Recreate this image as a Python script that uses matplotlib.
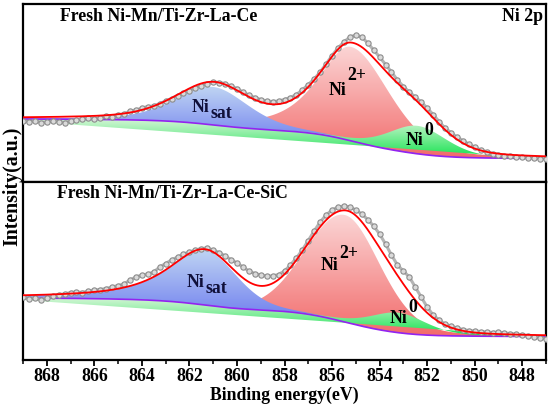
import numpy as np
import matplotlib
matplotlib.use("Agg")
import matplotlib.pyplot as plt
from matplotlib.colors import LinearSegmentedColormap

# ---------------- data (intensity in arbitrary units) -------------
tick_values = [868, 866, 864, 862, 860, 858, 856, 854, 852, 850, 848]
tick_labels = ["868", "866", "864", "862", "860", "858", "856", "854", "852", "850", "848"]

# raw XPS counts, 869 -> 847 eV every 0.25 eV
top_counts = [61, 60, 61.5, 59.5, 60, 61, 60.5, 59, 61.5, 62, 63.5, 64, 63.5, 64.5, 66, 65.5,
              67.5, 68, 71, 72, 74, 75.5, 76, 78.5, 81, 83.5, 86.5, 89, 91.5, 94, 96.5, 98.5,
              100, 99.5, 98.5, 96, 93.5, 90, 87, 84.5, 82.5, 81, 80.5, 81, 82.5, 84.5, 87.5, 92,
              97.5, 103, 110, 118, 126.5, 134, 140, 145, 147, 145, 139, 132, 125, 117.5, 110, 102,
              95.5, 90, 85, 80, 74, 67.5, 60.5, 54, 49.5, 45, 41.5, 38, 35, 32, 30.5, 28.5,
              27.5, 26.5, 26, 25.5, 25, 24, 24.5, 23.5, 23.5]
bot_counts = [63, 61.5, 62, 60.5, 62, 64, 65.5, 66, 67.5, 68, 67.5, 69, 70, 70.5, 71.5, 73,
              74.5, 76, 80, 83, 85, 86, 88, 93, 96.5, 100, 103, 106, 108, 110, 111.5, 112,
              110, 107.5, 104, 100.5, 97, 93, 89, 86.5, 85, 84, 84, 85.5, 89, 95, 102, 110,
              119.5, 129, 138, 145, 150, 153, 154, 153, 150, 146, 140.5, 134, 126, 116, 105, 95,
              89, 83, 73, 63, 53, 45, 40, 36, 34, 32, 30.5, 29.5, 29, 28.5, 28, 27.5,
              28, 27, 26.5, 26, 25, 24.5, 23, 22, 21.5]

# fitted components: Ni2+, Ni_sat, Ni0
top_center = [855.2, 861.0, 852.4]
top_height = [94, 38, 28]
top_hwhm_left = [1.65, 1.85, 1.45]
top_hwhm_right = [1.9, 1.75, 1.45]
top_eta_left = [0.7, 0.4, 0.3]
top_eta_right = [0.3, 0.35, 0.3]
top_bg = [63, 23.5]      # Shirley background at 869 eV and 847 eV
top_line = [61, 23]      # straight baseline at 869 eV and 847 eV

bot_center = [855.45, 861.35, 853.2]
bot_height = [107, 55, 20]
bot_hwhm_left = [1.95, 1.85, 1.4]
bot_hwhm_right = [1.75, 1.55, 1.4]
bot_eta_left = [0.05, 0.85, 0.3]
bot_eta_right = [0.2, 0.2, 0.3]
bot_bg = [62, 23.5]
bot_line = [60, 23]

panel_titles = ["Fresh Ni-Mn/Ti-Zr-La-Ce", "Fresh Ni-Mn/Ti-Zr-La-Ce-SiC"]

# ---------------- figure -------------
plt.rcParams["font.family"] = ["Liberation Serif", "DejaVu Serif"]
plt.rcParams["font.weight"] = "bold"

W, H = 550, 407
fig = plt.figure(figsize=(W / 100, H / 100), dpi=100)


def fx(x):
    return x / W


def fy(y):
    return 1 - y / H


ax_top = fig.add_axes([fx(23), fy(182), fx(546) - fx(23), fy(4) - fy(182)])
ax_bot = fig.add_axes([fx(23), fy(360), fx(546) - fx(23), fy(182) - fy(360)])

E = np.linspace(869, 847, 1101)


def pvoigt(e, c, h, wl, wr, el, er):
    d = e - c
    w = np.where(d > 0, wl, wr)
    eta = np.where(d > 0, el, er)
    r = d / w
    return h * ((1 - eta) * np.exp(-np.log(2) * r ** 2) + eta / (1 + r ** 2))


def shirley(e, total, b_left, b_right):
    seg = 0.5 * (total[1:] + total[:-1]) * np.abs(np.diff(e))
    cum = np.concatenate([np.cumsum(seg[::-1])[::-1], [0.0]])
    return b_right + (b_left - b_right) * cum / cum[0]


def grad_fill(ax, x, y1, y2, c_top, c_bot, z):
    poly = ax.fill_between(x, y1, y2, facecolor="none", edgecolor="none", zorder=z)
    path = poly.get_paths()[0]
    verts = path.vertices
    ymin, ymax = verts[:, 1].min(), verts[:, 1].max()
    cmap = LinearSegmentedColormap.from_list("g", [c_bot, c_top])
    grad = np.linspace(0, 1, 256).reshape(-1, 1)
    im = ax.imshow(grad, cmap=cmap, origin="lower", aspect="auto",
                   extent=[x.min(), x.max(), ymin, ymax], zorder=z, interpolation="bilinear")
    im.set_clip_path(path, transform=ax.transData)


def draw_panel(ax, counts, cen, hei, wl, wr, el, er, bg, line):
    comps = [pvoigt(E, cen[i], hei[i], wl[i], wr[i], el[i], er[i]) for i in range(3)]
    total = comps[0] + comps[1] + comps[2]
    B = shirley(E, total, bg[0], bg[1])
    L = line[1] + (line[0] - line[1]) * (E - 847) / (869 - 847)
    grad_fill(ax, E, B, B + comps[0], "#fbd6d6", "#f26a6a", 1)
    grad_fill(ax, E, B, B + comps[1], "#c0d5f3", "#5c6aee", 2)
    grad_fill(ax, E, L, B + comps[2], "#d8f6d8", "#10e24c", 3)
    ax.plot(E, B, color="#9323f0", lw=1.2, zorder=4)
    xe = np.linspace(869, 847, len(counts))
    ax.plot(xe, counts, "-", color="#b4b4b4", lw=2.2, zorder=5)
    ax.plot(xe, counts, "o", ms=3.8, mfc="#dadada", mec="#8c8c8c", mew=0.8, zorder=5)
    ax.plot(E, B + total, color="#ff0000", lw=1.3, zorder=6)
    ax.set_xlim(869, 847)
    ax.set_ylim(0, 178)
    ax.set_yticks([])
    for s in ax.spines.values():
        s.set_linewidth(1.6)


draw_panel(ax_top, top_counts, top_center, top_height, top_hwhm_left, top_hwhm_right,
           top_eta_left, top_eta_right, top_bg, top_line)
draw_panel(ax_bot, bot_counts, bot_center, bot_height, bot_hwhm_left, bot_hwhm_right,
           bot_eta_left, bot_eta_right, bot_bg, bot_line)

ax_top.set_xticks([])
ax_top.tick_params(axis="x", which="both", bottom=False, labelbottom=False)
ax_bot.set_xticks(tick_values)
ax_bot.set_xticklabels(tick_labels)
ax_bot.set_xticks(np.arange(847, 870, 1), minor=True)
ax_bot.tick_params(axis="x", which="major", direction="out", length=4.5, width=1.3,
                   labelsize=12.8, pad=1.5)
ax_bot.tick_params(axis="x", which="minor", direction="out", length=3, width=1.1)
for t in ax_bot.get_xticklabels():
    t.set_fontweight("bold")

# ---------------- texts -------------
fs = 12.8
fig.text(fx(60), fy(21), panel_titles[0], fontsize=fs, weight="bold", va="baseline")
fig.text(fx(543), fy(21), "Ni 2p", fontsize=fs, weight="bold", va="baseline", ha="right")
fig.text(fx(57), fy(198), panel_titles[1], fontsize=fs, weight="bold", va="baseline")
fig.text(fx(284), fy(399.5), "Binding energy(eV)", fontsize=fs, weight="bold",
         va="baseline", ha="center")
fig.text(fx(12.5), fy(186), "Intensity(a.u.)", fontsize=14.3, weight="bold",
         rotation=90, va="center", ha="center")

renderer = fig.canvas.get_renderer()


def label(x, y, main, sy, sub, col="black"):
    t = fig.text(fx(x), fy(y), main, fontsize=fs, weight="bold", va="baseline", color=col)
    bb = t.get_window_extent(renderer)
    fig.text((bb.x1 + 0.8) / fig.bbox.width, fy(sy), sub, fontsize=fs, weight="bold",
             va="baseline", color=col)


label(192, 112, "Ni", 118, "sat", "#10103a")
label(329, 95, "Ni", 80, "2+")
label(406, 145, "Ni", 135, "0")
label(187, 287, "Ni", 293, "sat", "#10103a")
label(321, 270, "Ni", 258, "2+")
label(390, 323, "Ni", 312, "0")

fig.savefig("out.png", dpi=100)
